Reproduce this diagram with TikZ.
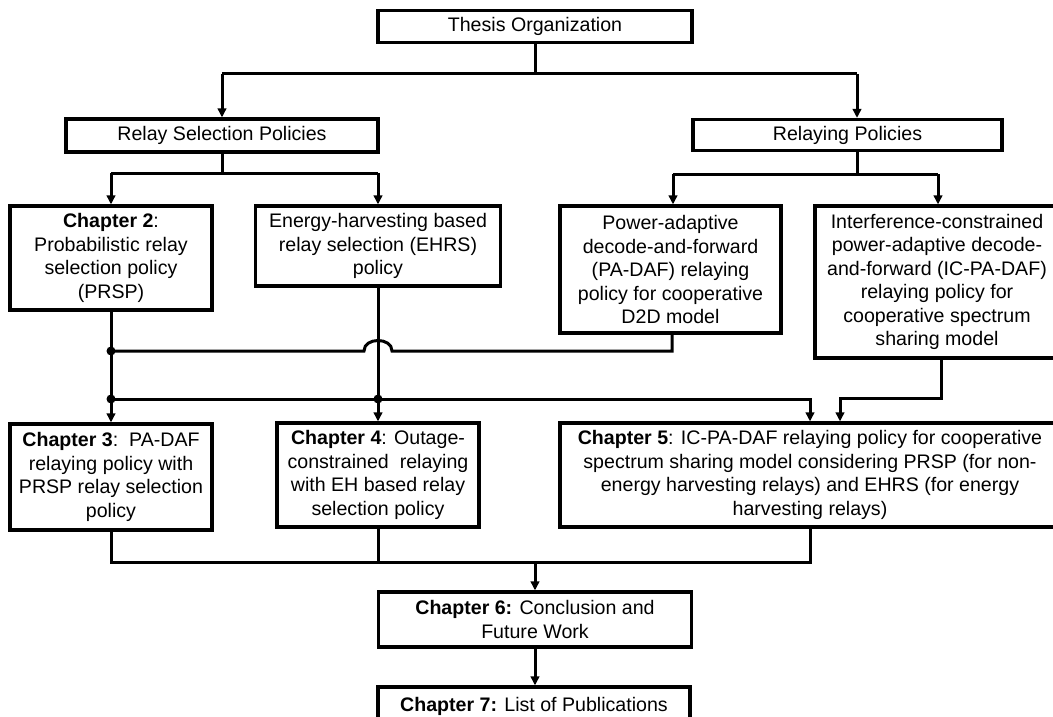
\documentclass[tikz,border=0pt]{standalone}
\usepackage{fontspec}
\setmainfont{Liberation Sans}
\usetikzlibrary{arrows.meta}
\begin{document}
\begin{tikzpicture}[x=1pt,y=-1pt,
  box/.style={draw, line width=3.2pt, fill=white, align=center, inner sep=0pt,
    font=\fontsize{19.6}{23.5}\selectfont},
  conn/.style={line width=3pt},
  arr/.style={conn, -{Triangle[length=9pt,width=8.5pt]}},
  dot/.style={fill=black}]
\useasboundingbox (0,0) rectangle (1053,717);
\clip (0,0) rectangle (1053,717);
\fill[white] (0,0) rectangle (1053,717);

% nodes
\node[box, minimum width=314pt, minimum height=32pt] (thesis) at (535,26.5) {Thesis Organization};
\node[box, minimum width=312pt, minimum height=33pt] (rsp) at (222,135.5) {Relay Selection Policies};
\node[box, minimum width=309pt, minimum height=31pt] (rp) at (847.5,135) {Relaying Policies};
\node[box, minimum width=202pt, minimum height=104pt] (ch2) at (111,258) {\textbf{Chapter 2}:\\Probabilistic relay\\selection policy\\(PRSP)};
\node[box, minimum width=245pt, minimum height=80pt] (ehrs) at (378,246) {Energy-harvesting based\\relay selection (EHRS)\\policy};
\node[box, minimum width=221pt, minimum height=127pt] (pa) at (670.5,269.5) {Power-adaptive\\decode-and-forward\\(PA-DAF) relaying\\policy for cooperative\\D2D model};
\node[box, minimum width=244pt, minimum height=152pt] (ic) at (937,282) {Interference-constrained\\power-adaptive decode-\\and-forward (IC-PA-DAF)\\relaying policy for\\cooperative spectrum\\sharing model};
\node[box, minimum width=202pt, minimum height=106pt] (ch3) at (111,477) {\textbf{Chapter 3}:~~PA-DAF\\relaying policy with\\PRSP relay selection\\policy};
\node[box, minimum width=202pt, minimum height=104pt] (ch4) at (378,475) {\textbf{Chapter 4}: Outage-\\constrained~~relaying\\with EH based relay\\selection policy};
\node[box, minimum width=500pt, minimum height=104pt] (ch5) at (810,475) {\textbf{Chapter 5}: IC-PA-DAF relaying policy for cooperative\\spectrum sharing model considering PRSP (for non-\\energy harvesting relays) and EHRS (for energy\\harvesting relays)};
\node[box, minimum width=313pt, minimum height=55pt] (ch6) at (535,619.5) {\textbf{Chapter 6:} Conclusion and\\Future Work};
\node[box, minimum width=312pt, minimum height=38pt] (ch7) at (534,706) {\textbf{Chapter 7:} List of Publications};

% coordinates
\coordinate (t1) at (535,74);
\coordinate (l1) at (222,74);
\coordinate (r1) at (857,74);
\coordinate (s1) at (222,173);
\coordinate (s1l) at (111,173);
\coordinate (s1r) at (378,173);
\coordinate (p1) at (857,174);
\coordinate (p1l) at (673,174);
\coordinate (p1r) at (938,174);
\coordinate (d1) at (111,351);
\coordinate (d2) at (111,399);
\coordinate (d3) at (378,399);
\coordinate (pa1) at (672,351);
\coordinate (jR) at (392,351);
\coordinate (jL) at (364,351);
\coordinate (c5a) at (810,399);
\coordinate (ic1) at (941,398);
\coordinate (c5b) at (840,398);
\coordinate (m1) at (111,562);
\coordinate (m2) at (378,562);
\coordinate (m3) at (810,562);
\coordinate (m0) at (535,562);

% connectors
\draw[conn] (thesis.south) -- (t1);
\draw[conn] (l1) -- (r1);
\draw[arr] (l1) -- (rsp.north);
\draw[arr] (r1) -- (r1 |- rp.north);

\draw[conn] (rsp.south) -- (s1);
\draw[conn] (s1l) -- (s1r);
\draw[arr] (s1l) -- (ch2.north);
\draw[arr] (s1r) -- (ehrs.north);

\draw[conn] (p1 |- rp.south) -- (p1);
\draw[conn] (p1l) -- (p1r);
\draw[arr] (p1l) -- (p1l |- pa.north);
\draw[arr] (p1r) -- (p1r |- ic.north);

\draw[arr] (ch2.south) -- (ch3.north);
\draw[arr] (ehrs.south) -- (ch4.north);
\draw[conn] (pa1 |- pa.south) -- (pa1) -- (jR) .. controls ([yshift=14pt]jR) and ([yshift=14pt]jL) .. (jL) -- (d1);
\draw[arr] (d2) -- (c5a) -- (c5a |- ch5.north);
\draw[arr] (ic1 |- ic.south) -- (ic1) -- (c5b) -- (c5b |- ch5.north);

\draw[conn] (ch3.south) -- (m1) -- (m3) -- (m3 |- ch5.south);
\draw[conn] (ch4.south) -- (m2);
\draw[arr] (m0) -- (ch6.north);
\draw[arr] (ch6.south) -- (ch6.south |- ch7.north);

\fill[dot] (d1) circle (4.5pt);
\fill[dot] (d2) circle (4.5pt);
\fill[dot] (d3) circle (4.5pt);
\end{tikzpicture}
\end{document}
